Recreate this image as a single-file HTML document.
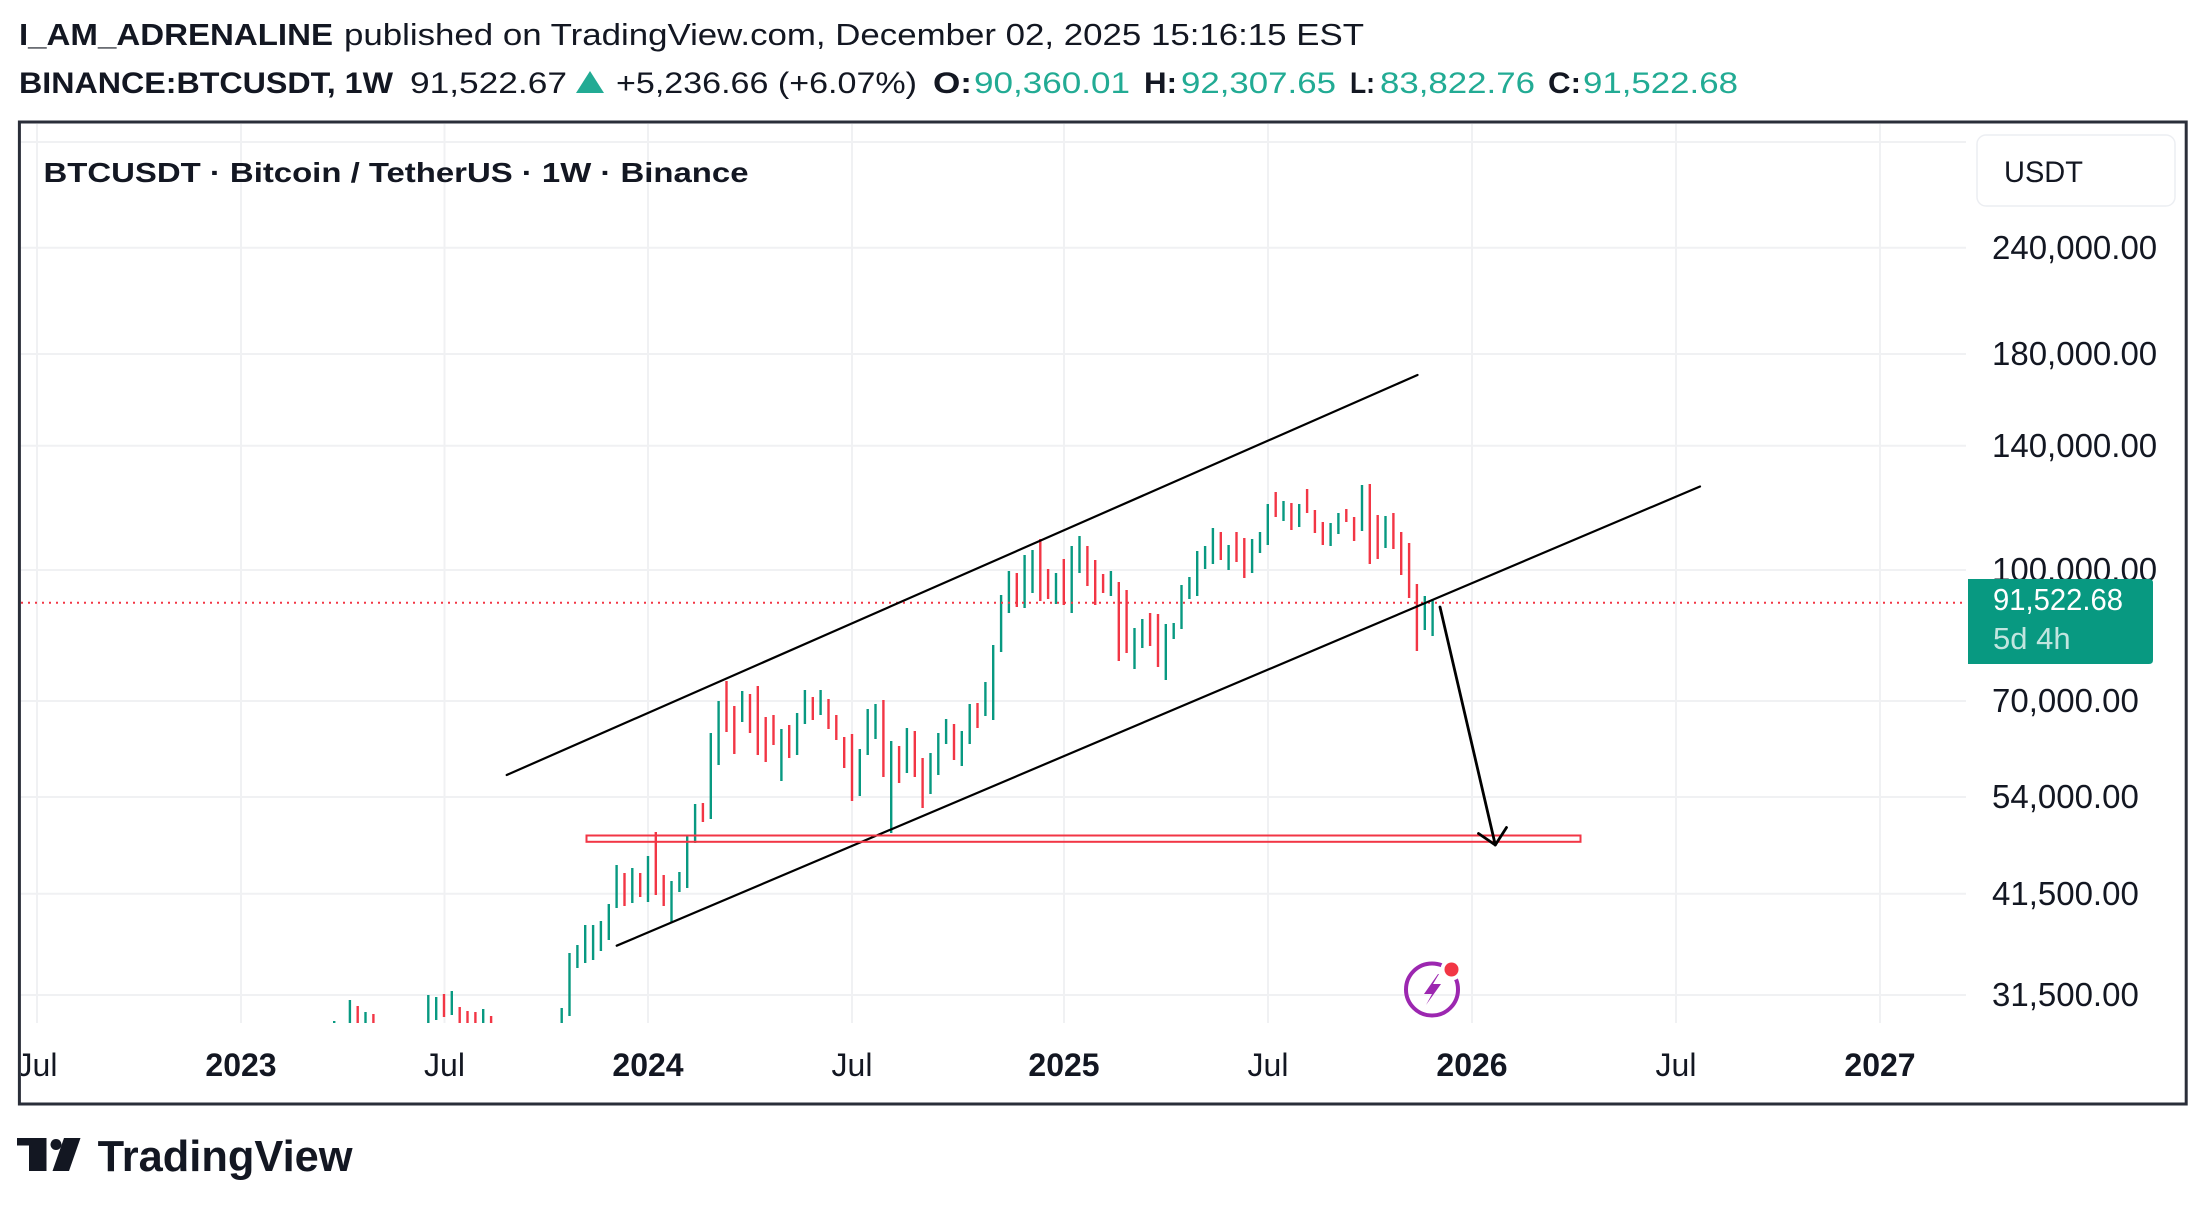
<!DOCTYPE html>
<html><head><meta charset="utf-8"><style>
html,body{margin:0;padding:0;background:#fff;}
svg{display:block;font-family:"Liberation Sans",Arial,sans-serif;}
</style></head><body>
<svg width="2205" height="1207" viewBox="0 0 2205 1207" xmlns="http://www.w3.org/2000/svg">
<defs>
<clipPath id="plot"><rect x="21" y="124" width="1945" height="899"/></clipPath>
<clipPath id="frame"><rect x="21" y="124" width="2163" height="979"/></clipPath>
</defs>
<rect width="2205" height="1207" fill="#fff"/>

<!-- header -->
<g fill="#131722">
<text x="19" y="45" font-size="31" font-weight="bold" textLength="314" lengthAdjust="spacingAndGlyphs">I_AM_ADRENALINE</text>
<text x="344" y="45" font-size="31" textLength="1020" lengthAdjust="spacingAndGlyphs">published on TradingView.com, December 02, 2025 15:16:15 EST</text>
<text x="19" y="93" font-size="30" font-weight="bold" textLength="374" lengthAdjust="spacingAndGlyphs">BINANCE:BTCUSDT, 1W</text>
<text x="410" y="93" font-size="30" textLength="157" lengthAdjust="spacingAndGlyphs">91,522.67</text>
<text x="616" y="93" font-size="30" textLength="301" lengthAdjust="spacingAndGlyphs">+5,236.66 (+6.07%)</text>
<text x="933" y="93" font-size="30" font-weight="bold" textLength="39" lengthAdjust="spacingAndGlyphs">O:</text>
<text x="1144" y="93" font-size="30" font-weight="bold" textLength="33" lengthAdjust="spacingAndGlyphs">H:</text>
<text x="1350" y="93" font-size="30" font-weight="bold" textLength="25" lengthAdjust="spacingAndGlyphs">L:</text>
<text x="1548" y="93" font-size="30" font-weight="bold" textLength="33" lengthAdjust="spacingAndGlyphs">C:</text>
</g>
<polygon points="590,71 576,93 604,93" fill="#22ab94"/>
<g fill="#22ab94" font-size="30">
<text x="974" y="93" textLength="156" lengthAdjust="spacingAndGlyphs">90,360.01</text>
<text x="1181" y="93" textLength="155" lengthAdjust="spacingAndGlyphs">92,307.65</text>
<text x="1380" y="93" textLength="155" lengthAdjust="spacingAndGlyphs">83,822.76</text>
<text x="1583" y="93" textLength="155" lengthAdjust="spacingAndGlyphs">91,522.68</text>
</g>

<!-- grid -->
<g stroke="#f0f1f3" stroke-width="2" clip-path="url(#frame)">
<path d="M37 123V1023M241 123V1023M444.5 123V1023M648 123V1023M852 123V1023M1064 123V1023M1268 123V1023M1472 123V1023M1676 123V1023M1880 123V1023"/>
<path d="M21 142H1966M21 247.7H1966M21 354H1966M21 445.7H1966M21 570H1966M21 701H1966M21 797H1966M21 893.7H1966M21 995H1966"/>
</g>

<!-- candles -->
<g clip-path="url(#plot)" fill="none" stroke-width="2.4">
<path stroke="#089981" d="M334.2 1021V1024M349.9 1000V1024M365.5 1012V1024M428.3 995V1024M436.2 997V1020M451.8 991V1015M483.2 1009V1024M561.7 1008V1024M569.5 953V1016M577.4 945V968M585.2 925V963M593.1 925V960M600.9 921V951M608.8 904V940M616.6 865V908M632.3 868V903M648 856V902M671.5 881V922M679.4 872V892M687.2 835V888M695.1 804V843M710.8 733V819M718.6 701V765M742.2 691V722M781.4 729V781M797.1 713V755M804.9 690V724M820.6 690V715M859.8 749V796M867.7 709V755M875.5 704V739M891.2 741V833M906.9 728V773M930.5 753V794M938.3 733V775M946.1 719V744M961.8 731V766M969.7 704V744M985.4 682V716M993.2 645V720M1001.1 595V652M1008.9 571V613M1024.6 555V608M1032.5 550V593M1056 573V604M1071.7 546V613M1079.5 536V573M1110.9 571V596M1134.5 628V669M1142.3 619V648M1165.8 624V680M1173.7 623V639M1181.5 585V629M1189.4 577V599M1197.2 551V596M1205.1 546V569M1212.9 528V564M1228.6 545V570M1252.1 539V573M1260 532V553M1267.8 504V545M1283.5 501V521M1299.2 504V527M1330.6 523V546M1338.4 513V534M1362 485V531M1385.5 516V548M1424.8 596V630M1432.6 599V636"/>
<path stroke="#f23645" d="M357.7 1006V1024M373.4 1014V1024M444 994V1017M459.7 1007V1024M467.5 1011V1024M475.4 1012V1024M491.1 1016V1024M624.5 873V906M640.2 873V897M655.8 832V895M663.7 875V906M702.9 803V822M726.5 681V732M734.3 706V754M750 694V733M757.8 686V755M765.7 717V762M773.5 715V745M789.2 725V758M812.8 697V720M828.5 699V729M836.3 715V740M844.2 737V768M852 734V801M883.4 700V777M899.1 746V783M914.8 731V777M922.6 758V808M954 724V760M977.5 703V728M1016.8 573V607M1040.3 539V601M1048.1 569V599M1063.8 559V605M1087.4 546V586M1095.2 560V605M1103.1 574V593M1118.8 582V661M1126.6 590V653M1150.1 613V646M1158 614V667M1220.8 532V560M1236.5 532V562M1244.3 538V578M1275.7 492V517M1291.4 503V530M1307.1 489V513M1314.9 510V533M1322.8 522V545M1346.3 509V522M1354.1 517V541M1369.8 484V564M1377.7 515V559M1393.4 513V549M1401.2 532V575M1409.1 543V598M1416.9 584V651"/>
</g>

<!-- current price dotted line -->
<line x1="21" y1="602.7" x2="1966" y2="602.7" stroke="#f23645" stroke-width="2" stroke-dasharray="2 5"/>

<!-- drawings -->
<g stroke="#000" stroke-width="2.2" fill="none" stroke-linecap="round">
<line x1="506.7" y1="775" x2="1417.5" y2="375"/>
<line x1="616.7" y1="945.7" x2="1700" y2="486.5"/>
</g>
<rect x="586.5" y="835.5" width="994" height="6.3" fill="none" stroke="#f23645" stroke-width="2"/>
<g stroke="#000" stroke-width="2.8" fill="none" stroke-linecap="round" stroke-linejoin="round">
<line x1="1440" y1="607" x2="1495.3" y2="845"/>
<polyline points="1478.5,833.5 1495.3,845 1506.5,827.5"/>
</g>

<!-- lightning icon -->
<circle cx="1432" cy="989.5" r="26" fill="none" stroke="#9c27b0" stroke-width="4"/>
<circle cx="1451.5" cy="969.5" r="11" fill="#fff"/>
<circle cx="1451.5" cy="969.5" r="7" fill="#f23645"/>
<polygon points="1438,974 1424,994 1432,994 1426,1005 1441,984 1433,984 1439,974" fill="#9c27b0"/>

<!-- frame -->
<rect x="19.4" y="122" width="2166.8" height="982" fill="none" stroke="#2a2e39" stroke-width="3"/>

<!-- chart title -->
<text x="43.5" y="182" font-size="28" font-weight="bold" fill="#131722" textLength="705" lengthAdjust="spacingAndGlyphs">BTCUSDT · Bitcoin / TetherUS · 1W · Binance</text>

<!-- price axis -->
<rect x="1977" y="135" width="198" height="71" rx="9" fill="#fff" stroke="#eceef2" stroke-width="1.5"/>
<text x="2004" y="182" font-size="30" fill="#131722" textLength="79" lengthAdjust="spacingAndGlyphs">USDT</text>
<g font-size="33" fill="#131722">
<text x="1992" y="259">240,000.00</text>
<text x="1992" y="365">180,000.00</text>
<text x="1992" y="457">140,000.00</text>
<text x="1992" y="581">100,000.00</text>
<text x="1992" y="712">70,000.00</text>
<text x="1992" y="808">54,000.00</text>
<text x="1992" y="905">41,500.00</text>
<text x="1992" y="1006">31,500.00</text>
</g>
<path d="M1968 579H2149Q2153 579 2153 583V660Q2153 664 2149 664H1968Z" fill="#089981"/>
<text x="1993" y="610" font-size="31" fill="#fff" textLength="130" lengthAdjust="spacingAndGlyphs">91,522.68</text>
<text x="1993" y="649" font-size="31" fill="#fff" fill-opacity="0.75">5d 4h</text>

<!-- time axis -->
<g font-size="32" fill="#131722" text-anchor="middle" clip-path="url(#frame)">
<text x="37" y="1076">Jul</text>
<text x="241" y="1076" font-weight="bold">2023</text>
<text x="444.5" y="1076">Jul</text>
<text x="648" y="1076" font-weight="bold">2024</text>
<text x="852" y="1076">Jul</text>
<text x="1064" y="1076" font-weight="bold">2025</text>
<text x="1268" y="1076">Jul</text>
<text x="1472" y="1076" font-weight="bold">2026</text>
<text x="1676" y="1076">Jul</text>
<text x="1880" y="1076" font-weight="bold">2027</text>
</g>

<!-- TradingView logo -->
<g fill="#131722">
<path d="M17 1138H46.5V1171H29V1145.5H17Z"/>
<circle cx="56" cy="1144.5" r="5.5"/>
<polygon points="64,1138 80.5,1138 69,1171 52.5,1171"/>
<text x="97.6" y="1171" font-size="44" font-weight="bold" textLength="255" lengthAdjust="spacingAndGlyphs">TradingView</text>
</g>
</svg>
</body></html>
